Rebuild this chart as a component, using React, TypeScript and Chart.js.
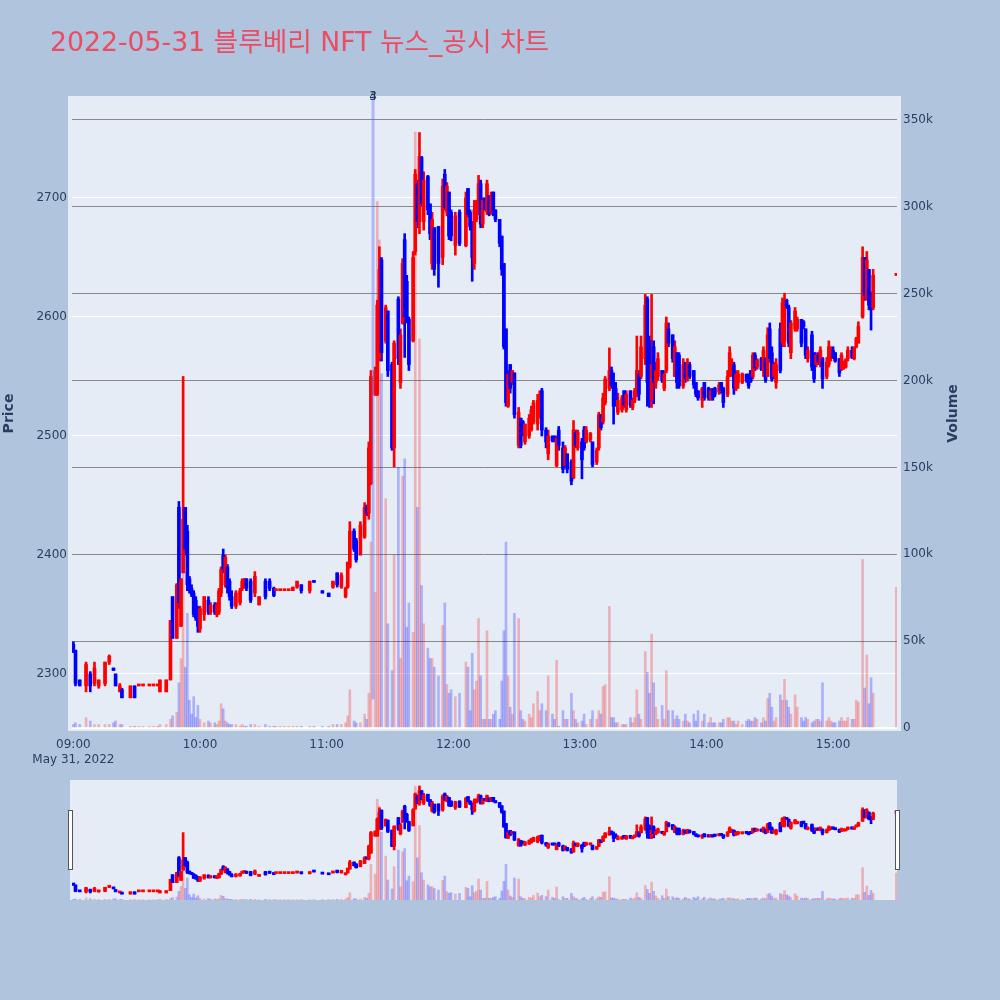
import { useEffect, useRef } from 'react';
import { Chart, registerables } from 'chart.js';

Chart.register(...registerables);

// ---------------- data ----------------
const TITLE = '2022-05-31 블루베리 NFT 뉴스_공시 차트';
const DATE_LABEL = 'May 31, 2022';

const times = [
  '09:00','09:01','09:03','09:06','09:08','09:10','09:12','09:15','09:17','09:19','09:20','09:22','09:23','09:27','09:29','09:31','09:33','09:36','09:38','09:40','09:41','09:44','09:46','09:47','09:49','09:50','09:51','09:52','09:53','09:54','09:55','09:56','09:57','09:58','09:59',
  '10:00','10:02','10:04','10:05','10:07','10:08','10:09','10:10','10:11','10:12','10:13','10:14','10:15','10:17','10:19','10:20','10:21','10:22','10:24','10:26','10:28','10:31','10:33','10:35','10:36','10:38','10:40','10:42','10:44','10:46','10:48','10:52','10:54','10:58',
  '11:01','11:03','11:05','11:07','11:09','11:10','11:11','11:13','11:14','11:16','11:18','11:19','11:20','11:21','11:23','11:24','11:25','11:26','11:28','11:29','11:31','11:32','11:34','11:35','11:36','11:37','11:38','11:39','11:41','11:42','11:43','11:44','11:45','11:46','11:48','11:49','11:50','11:51','11:53','11:55','11:56','11:57','11:58','11:59',
  '12:01','12:03','12:06','12:07','12:08','12:09','12:10','12:11','12:12','12:13','12:14','12:15','12:16','12:17','12:18','12:19','12:20','12:22','12:23','12:24','12:25','12:26','12:27','12:28','12:29','12:31','12:32','12:33','12:34','12:36','12:37','12:38','12:40','12:41','12:42','12:44','12:45','12:47','12:48','12:49','12:50','12:52','12:53','12:54','12:56','12:57','12:58','12:59',
  '13:01','13:02','13:03','13:05','13:06','13:08','13:09','13:10','13:11','13:12','13:14','13:15','13:16','13:17','13:18','13:20','13:21','13:22','13:24','13:25','13:26','13:27','13:28','13:29','13:31','13:32','13:33','13:34','13:35','13:36','13:37','13:39','13:40','13:41','13:42','13:44','13:45','13:46','13:47','13:49','13:50','13:51','13:52','13:54','13:55','13:56','13:58','13:59',
  '14:01','14:02','14:03','14:04','14:06','14:07','14:08','14:10','14:11','14:12','14:13','14:14','14:15','14:17','14:19','14:20','14:21','14:22','14:23','14:24','14:26','14:27','14:28','14:29','14:30','14:31','14:32','14:33','14:35','14:36','14:37','14:38','14:39','14:40','14:42','14:43','14:45','14:46','14:47','14:48','14:50','14:51','14:52','14:53','14:54','14:55','14:57','14:58','14:59',
  '15:00','15:01','15:03','15:04','15:05','15:06','15:07','15:09','15:10','15:11','15:12','15:14','15:15','15:16','15:17','15:18','15:19','15:30',
];

const opens = [
  2325,2320,2295,2290,2300,2292,2290,2292,2310,2305,2300,2285,2287,2280,2290,2290,2290,2290,2290,2290,2285,2285,2295,2365,2330,2440,2340,2385,2440,2420,2380,2372,2368,2362,2356,
  2338,2350,2362,2352,2358,2350,2352,2368,2400,2375,2390,2378,2365,2357,2360,2372,2375,2380,2378,2368,2358,2378,2378,2372,2370,2370,2370,2370,2370,2373,2375,2370,2377,2370,
  2368,2373,2385,2373,2365,2373,2390,2420,2412,2400,2415,2440,2435,2460,2535,2535,2565,2648,2580,2605,2560,2490,2615,2545,2595,2665,2630,2598,2580,2655,2712,2680,2734,2680,2718,2695,2645,2675,2676,2650,2720,2688,2705,2688,
  2660,2688,2660,2708,2688,2680,2645,2682,2688,2712,2678,2700,2688,2702,2688,2705,2690,2682,2668,2645,2590,2525,2560,2545,2553,2492,2515,2512,2495,2500,2505,2512,2510,2518,2538,2505,2485,2500,2500,2475,2505,2490,2475,2485,2478,2465,2503,2490,
  2495,2505,2495,2497,2495,2478,2490,2518,2512,2528,2540,2555,2545,2540,2520,2522,2538,2522,2538,2524,2530,2535,2552,2550,2565,2615,2580,2530,2575,2545,2550,2555,2540,2555,2590,2585,2550,2570,2568,2542,2560,2548,2560,2555,2545,2538,2530,2545,
  2540,2532,2538,2540,2537,2545,2540,2535,2550,2555,2560,2540,2545,2545,2552,2552,2555,2550,2568,2558,2565,2555,2565,2550,2590,2570,2550,2545,2590,2578,2580,2614,2608,2570,2590,2590,2598,2596,2590,2565,2585,2570,2560,2568,2560,2565,2550,2560,2565,
  2572,2570,2565,2556,2558,2558,2565,2572,2565,2575,2578,2600,2650,2615,2640,2620,2608,2635,
];

const highs = [
  2327,2320,2295,2310,2302,2310,2295,2310,2316,2305,2300,2292,2288,2290,2290,2290,2290,2290,2290,2290,2295,2295,2345,2365,2376,2445,2380,2550,2440,2425,2382,2375,2370,2365,2357,
  2357,2365,2365,2360,2360,2360,2372,2390,2405,2400,2392,2380,2370,2370,2372,2380,2380,2380,2380,2386,2365,2380,2380,2373,2370,2370,2370,2370,2373,2378,2375,2378,2377,2370,
  2368,2378,2385,2385,2373,2394,2428,2422,2414,2428,2444,2442,2495,2555,2558,2614,2659,2650,2610,2605,2562,2580,2617,2590,2649,2670,2635,2600,2655,2724,2715,2755,2735,2722,2719,2695,2688,2675,2676,2716,2724,2713,2705,2690,
  2688,2690,2705,2708,2690,2680,2698,2698,2719,2715,2700,2700,2715,2702,2705,2705,2690,2682,2668,2645,2590,2555,2560,2555,2553,2524,2515,2513,2510,2518,2525,2530,2535,2538,2540,2507,2505,2500,2500,2500,2508,2495,2492,2485,2480,2513,2505,2505,
  2498,2508,2508,2503,2495,2490,2520,2518,2536,2550,2574,2558,2553,2545,2536,2534,2538,2538,2538,2532,2540,2584,2555,2584,2619,2617,2584,2619,2580,2562,2570,2555,2555,2600,2595,2585,2580,2570,2570,2565,2562,2565,2562,2555,2545,2538,2541,2545,
  2541,2540,2540,2541,2545,2545,2541,2555,2575,2565,2562,2555,2555,2553,2552,2552,2555,2570,2570,2565,2566,2575,2566,2591,2595,2575,2562,2565,2595,2616,2620,2615,2610,2597,2608,2600,2598,2597,2590,2575,2588,2570,2570,2570,2575,2566,2566,2580,2575,
  2575,2570,2565,2570,2563,2565,2575,2575,2575,2583,2596,2659,2650,2655,2640,2621,2640,2635,
];

const lows = [
  2318,2290,2290,2285,2285,2290,2288,2290,2308,2303,2290,2285,2280,2280,2280,2290,2290,2290,2290,2290,2285,2285,2295,2330,2330,2355,2340,2385,2400,2370,2368,2365,2348,2345,2335,
  2335,2345,2350,2350,2350,2348,2350,2365,2385,2373,2368,2362,2355,2355,2358,2370,2372,2370,2360,2365,2358,2363,2370,2365,2370,2370,2370,2370,2370,2372,2368,2368,2377,2368,
  2365,2372,2373,2372,2364,2372,2389,2403,2394,2400,2414,2433,2430,2459,2534,2534,2563,2563,2578,2550,2488,2474,2560,2540,2594,2566,2595,2555,2579,2652,2675,2670,2693,2673,2686,2665,2640,2635,2625,2644,2690,2685,2665,2664,
  2652,2660,2659,2684,2673,2630,2640,2680,2686,2675,2675,2690,2686,2685,2686,2685,2680,2659,2635,2573,2525,2524,2536,2543,2515,2490,2490,2500,2493,2498,2504,2510,2505,2515,2500,2490,2480,2495,2495,2474,2488,2469,2474,2469,2459,2464,2490,2488,
  2464,2488,2494,2495,2474,2476,2488,2505,2510,2526,2538,2540,2510,2525,2518,2520,2524,2520,2524,2522,2528,2533,2530,2548,2560,2525,2524,2524,2527,2540,2547,2545,2538,2553,2575,2562,2550,2540,2540,2540,2545,2546,2548,2540,2533,2530,2524,2530,
  2530,2530,2530,2533,2535,2536,2524,2533,2550,2550,2535,2538,2540,2544,2545,2540,2545,2548,2555,2556,2555,2550,2545,2550,2562,2546,2548,2540,2553,2575,2575,2607,2575,2565,2588,2588,2575,2590,2565,2562,2555,2545,2558,2560,2558,2540,2548,2558,2563,
  2565,2562,2550,2555,2556,2557,2563,2565,2564,2574,2578,2599,2614,2614,2606,2589,2606,2635,
];

const closes = [
  2320,2292,2290,2308,2290,2305,2295,2310,2315,2303,2290,2290,2280,2290,2280,2290,2290,2290,2290,2290,2295,2295,2345,2330,2375,2360,2380,2430,2405,2375,2370,2367,2350,2347,2340,
  2355,2365,2352,2358,2352,2358,2370,2388,2388,2398,2372,2365,2357,2368,2370,2378,2380,2372,2362,2382,2365,2365,2372,2366,2370,2370,2370,2370,2373,2378,2370,2378,2377,2368,
  2365,2378,2375,2383,2372,2394,2420,2405,2396,2425,2440,2435,2490,2550,2555,2610,2640,2570,2608,2555,2490,2578,2565,2585,2645,2600,2600,2560,2650,2720,2680,2735,2695,2715,2690,2670,2682,2640,2645,2710,2692,2710,2668,2668,
  2685,2662,2700,2686,2676,2650,2690,2696,2712,2678,2698,2690,2712,2688,2702,2688,2682,2662,2640,2575,2528,2552,2540,2555,2518,2520,2492,2502,2510,2515,2522,2528,2530,2535,2505,2495,2500,2496,2496,2498,2492,2472,2490,2472,2462,2505,2492,2503,
  2480,2490,2505,2502,2476,2488,2518,2507,2532,2548,2555,2542,2525,2527,2530,2532,2526,2535,2526,2530,2538,2555,2535,2575,2610,2545,2530,2560,2545,2555,2565,2547,2552,2595,2578,2565,2575,2545,2542,2560,2548,2562,2550,2543,2535,2532,2540,2532,
  2532,2538,2532,2535,2543,2538,2528,2550,2570,2562,2540,2552,2552,2552,2547,2542,2546,2568,2557,2564,2556,2572,2547,2585,2565,2548,2560,2560,2555,2612,2615,2608,2578,2595,2605,2598,2578,2592,2568,2572,2558,2548,2568,2562,2572,2548,2562,2575,2572,
  2566,2563,2553,2568,2562,2564,2572,2566,2574,2582,2592,2650,2618,2648,2610,2608,2635,2635,
];

// volume in thousands of shares
const volumeThousands = [
  2,3,2,6,4,2,2,2,2,3,4,2,2,1,1,1,1,1,1,1,2,2,5,7,9,26,40,120,35,66,16,8,18,6,13,
  5,3,4,3,3,2,4,14,11,4,3,2,2,2,1,2,1,1,2,2,1,2,1,1,1,1,1,1,1,1,1,1,1,1,
  1,2,2,2,3,7,22,4,3,3,8,5,20,107,78,303,281,204,132,60,33,100,150,40,145,155,58,72,55,343,127,224,82,60,46,40,40,35,30,59,72,25,20,22,
  18,20,38,35,10,43,22,27,63,30,5,5,56,5,5,8,10,5,27,56,107,30,12,8,66,63,10,5,4,8,6,14,21,10,14,10,30,8,5,39,1,10,5,5,20,10,5,3,
  4,8,2,5,10,5,10,8,24,25,70,6,6,3,3,2,2,2,6,3,6,22,8,5,44,32,20,54,26,12,5,13,5,33,10,10,5,7,5,4,8,4,3,8,4,10,4,8,
  3,6,3,3,3,3,5,6,6,4,4,2,4,2,4,5,4,4,6,5,3,6,4,17,20,12,4,6,19,16,28,16,12,8,19,12,6,4,6,5,3,4,5,5,4,26,4,6,4,
  3,3,4,6,4,4,6,5,5,16,15,97,23,42,14,29,20,81,
];

const priceTicks = [2300, 2400, 2500, 2600, 2700];
const volumeTicks = [0, 50000, 100000, 150000, 200000, 250000, 300000, 350000];
const timeTicks = ['09:00', '10:00', '11:00', '12:00', '13:00', '14:00', '15:00'];

const newsTimes = ['11:22', '11:22'];
const newsLabels = ['3', '4'];

// ---------------- styling ----------------
const FONT = 'Verdana, "DejaVu Sans", sans-serif';
const TITLE_FONT = 'Verdana, "DejaVu Sans", "Noto Sans CJK KR", sans-serif';
const AXIS_COLOR = '#2a3f5f';
const PAGE_BG = '#b0c4de';
const PLOT_BG = '#e5ecf6';
const UP = '#ff0000';
const DOWN = '#0000ff';
const UP_VOL = 'rgba(255,0,0,0.25)';
const DOWN_VOL = 'rgba(0,0,255,0.25)';

const X_MIN = -0.66;
const X_MAX = 390.3;

const toMinute = (t: string) => {
  const [h, m] = t.split(':').map(Number);
  return (h - 9) * 60 + m;
};

const directions: boolean[] = (() => {
  let prevUp = true;
  return closes.map((c, i) => {
    const o = opens[i];
    let up: boolean;
    if (c > o) up = true;
    else if (c < o) up = false;
    else if (i > 0 && c > closes[i - 1]) up = true;
    else if (i > 0 && c < closes[i - 1]) up = false;
    else up = prevUp;
    prevUp = up;
    return up;
  });
})();

function buildDatasets(bodyW: number, wickW: number, volW: number) {
  const xs = times.map(toMinute);
  const colors = directions.map((u) => (u ? UP : DOWN));
  const volColors = directions.map((u) => (u ? UP_VOL : DOWN_VOL));
  return [
    {
      label: 'body',
      data: xs.map((x, i) => ({ x, y: [Math.min(opens[i], closes[i]), Math.max(opens[i], closes[i])] })),
      backgroundColor: colors,
      barThickness: bodyW,
      minBarLength: 2,
      yAxisID: 'y',
      grouped: false,
      order: 1,
    },
    {
      label: 'wick',
      data: xs.map((x, i) => ({ x, y: [lows[i], highs[i]] })),
      backgroundColor: colors,
      barThickness: wickW,
      minBarLength: 1,
      yAxisID: 'y',
      grouped: false,
      order: 2,
    },
    {
      label: 'volume',
      data: xs.map((x, i) => ({ x, y: volumeThousands[i] * 1000 })),
      backgroundColor: volColors,
      barThickness: volW,
      yAxisID: 'y1',
      grouped: false,
      order: 3,
    },
  ];
}

const setTicks = (values: number[]) => (scale: any) => {
  scale.ticks = values.map((v) => ({ value: v }));
};

const mainBgPlugin = {
  id: 'mainBg',
  beforeDraw(chart: any) {
    const { ctx, chartArea: a } = chart;
    ctx.save();
    ctx.fillStyle = PAGE_BG;
    ctx.fillRect(0, 0, chart.width, chart.height);
    ctx.fillStyle = PLOT_BG;
    ctx.fillRect(a.left - 4, a.top, a.right - a.left + 8, a.bottom - a.top);
    ctx.restore();
  },
};

const mainOverlayPlugin = {
  id: 'mainOverlay',
  afterDraw(chart: any) {
    const { ctx, chartArea: a } = chart;
    const xs = chart.scales.x;
    ctx.save();
    // news markers
    newsTimes.forEach((t, i) => {
      const px = xs.getPixelForValue(toMinute(t));
      if (i === 0) {
        ctx.strokeStyle = 'rgba(99,110,250,0.42)';
        ctx.lineWidth = 3;
        ctx.beginPath();
        ctx.moveTo(px, a.top);
        ctx.lineTo(px, a.bottom - 0.05 * (a.bottom - a.top));
        ctx.stroke();
      }
      ctx.fillStyle = AXIS_COLOR;
      ctx.font = `12px ${FONT}`;
      ctx.textAlign = 'center';
      ctx.textBaseline = 'middle';
      ctx.fillText(newsLabels[i], px, a.top + 1);
    });
    // title
    ctx.fillStyle = '#eb4c63';
    ctx.font = `26.7px ${TITLE_FONT}`;
    ctx.textAlign = 'left';
    ctx.textBaseline = 'alphabetic';
    ctx.fillText(TITLE, 50, 51);
    // axis titles
    const midY = (a.top + a.bottom) / 2;
    ctx.fillStyle = AXIS_COLOR;
    ctx.font = `bold 14px ${FONT}`;
    ctx.textAlign = 'center';
    ctx.textBaseline = 'middle';
    ctx.save();
    ctx.translate(9.5, midY);
    ctx.rotate(-Math.PI / 2);
    ctx.fillText('Price', 0, 0);
    ctx.restore();
    ctx.save();
    ctx.translate(953.5, midY);
    ctx.rotate(-Math.PI / 2);
    ctx.fillText('Volume', 0, 0);
    ctx.restore();
    ctx.restore();
  },
};

const sliderPlugin = {
  id: 'sliderDeco',
  beforeDraw(chart: any) {
    const { ctx, chartArea: a } = chart;
    ctx.save();
    ctx.fillStyle = PAGE_BG;
    ctx.fillRect(0, 0, chart.width, chart.height);
    ctx.fillStyle = PLOT_BG;
    ctx.fillRect(a.left - 2, a.top, a.right - a.left + 2, a.bottom - a.top);
    ctx.restore();
  },
  afterDraw(chart: any) {
    const { ctx, chartArea: a } = chart;
    ctx.save();
    const h0 = a.top + 30;
    const hh = 60;
    ctx.fillStyle = '#ffffff';
    ctx.strokeStyle = '#555555';
    ctx.lineWidth = 1;
    ctx.fillRect(a.left - 4, h0, 5, hh);
    ctx.strokeRect(a.left - 3.5, h0 + 0.5, 4, hh - 1);
    ctx.fillRect(a.right - 2, h0, 5, hh);
    ctx.strokeRect(a.right - 1.5, h0 + 0.5, 4, hh - 1);
    ctx.restore();
  },
};

export default function App() {
  const mainRef = useRef<HTMLCanvasElement>(null);
  const sliderRef = useRef<HTMLCanvasElement>(null);

  useEffect(() => {
    const tickFont = { family: FONT, size: 12, lineHeight: 1.25 };
    const main = new Chart(mainRef.current as HTMLCanvasElement, {
      type: 'bar',
      data: { datasets: buildDatasets(3, 2, 2) as any },
      options: {
        animation: false,
        responsive: false,
        maintainAspectRatio: false,
        devicePixelRatio: 1,
        events: [],
        layout: { padding: { top: 96, left: 0, right: 0, bottom: 0 } },
        plugins: { legend: { display: false }, tooltip: { enabled: false } },
        scales: {
          x: {
            type: 'linear',
            min: X_MIN,
            max: X_MAX,
            bounds: 'data',
            offset: false,
            grid: { display: false, drawTicks: false, offset: false },
            border: { display: false },
            afterBuildTicks: setTicks(timeTicks.map(toMinute)),
            afterFit: (s: any) => { s.height = 269; },
            ticks: {
              autoSkip: false,
              maxRotation: 0,
              minRotation: 0,
              padding: 6,
              color: AXIS_COLOR,
              font: tickFont,
              callback: (_v: any, i: number) => (i === 0 ? [timeTicks[0], DATE_LABEL] : timeTicks[i]),
            },
          },
          y: {
            type: 'linear',
            position: 'left',
            min: 2252.1,
            max: 2785.7,
            bounds: 'data',
            grid: { color: '#ffffff', lineWidth: 1, drawTicks: false },
            border: { display: false },
            afterBuildTicks: setTicks(priceTicks),
            afterFit: (s: any) => { s.width = 72; },
            ticks: { autoSkip: false, padding: 5, color: AXIS_COLOR, font: tickFont, callback: (v: any) => `${v}` },
          },
          y1: {
            type: 'linear',
            position: 'right',
            min: -1730,
            max: 363800,
            bounds: 'data',
            grid: {
              color: (c: any) => (c.tick && c.tick.value === 0 ? '#ffffff' : '#888888'),
              lineWidth: (c: any) => (c.tick && c.tick.value === 0 ? 2 : 1),
              drawTicks: false,
            },
            border: { display: false },
            afterBuildTicks: setTicks(volumeTicks),
            afterFit: (s: any) => { s.width = 103; },
            ticks: {
              autoSkip: false,
              padding: 6,
              color: AXIS_COLOR,
              font: tickFont,
              callback: (v: any) => (v === 0 ? '0' : `${v / 1000}k`),
            },
          },
        },
      } as any,
      plugins: [mainBgPlugin, mainOverlayPlugin],
    });

    const slider = new Chart(sliderRef.current as HTMLCanvasElement, {
      type: 'bar',
      data: { datasets: buildDatasets(3, 2, 2) as any },
      options: {
        animation: false,
        responsive: false,
        maintainAspectRatio: false,
        devicePixelRatio: 1,
        events: [],
        layout: { padding: { top: 10, left: 72, right: 103, bottom: 10 } },
        plugins: { legend: { display: false }, tooltip: { enabled: false } },
        scales: {
          x: { type: 'linear', display: false, min: X_MIN, max: X_MAX, bounds: 'data', offset: false },
          y: { type: 'linear', display: false, min: 2254, max: 2781, bounds: 'data' },
          y1: { type: 'linear', display: false, min: 0, max: 361000, bounds: 'data' },
        },
      } as any,
      plugins: [sliderPlugin],
    });

    return () => {
      main.destroy();
      slider.destroy();
    };
  }, []);

  return (
    <div style={{ position: 'absolute', left: 0, top: 0, width: 1000, height: 1000, background: PAGE_BG }}>
      <canvas
        ref={mainRef}
        width={1000}
        height={1000}
        style={{ position: 'absolute', left: 0, top: 0, width: 1000, height: 1000 }}
      />
      <canvas
        ref={sliderRef}
        width={1000}
        height={140}
        style={{ position: 'absolute', left: 0, top: 770, width: 1000, height: 140 }}
      />
    </div>
  );
}
